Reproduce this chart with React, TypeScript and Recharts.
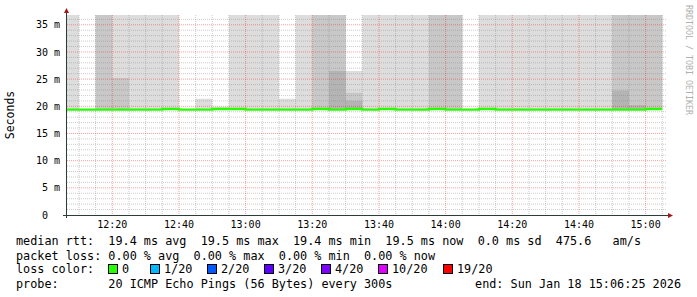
import { Area, CartesianGrid, ComposedChart, Line, XAxis, YAxis } from "recharts"

// slot start, minutes after 12:00 (last entry closes the last slot)
const slotMinutes = [
  6.4167, 10, 15, 20, 25, 30, 35, 40, 45, 50, 55, 60, 65, 70, 75, 80, 85, 90, 95,
  100, 105, 110, 115, 120, 125, 130, 135, 140, 145, 150, 155, 160, 165, 170, 175, 180, 185,
]

// median rtt per slot (ms)
const medianMs = [
  19.4, 19.4, 19.4, 19.4, 19.4, 19.4, 19.5, 19.4, 19.4, 19.5, 19.5, 19.4, 19.4, 19.4, 19.4, 19.5, 19.4, 19.5, 19.4,
  19.5, 19.4, 19.4, 19.5, 19.4, 19.4, 19.5, 19.4, 19.4, 19.4, 19.4, 19.4, 19.4, 19.4, 19.4, 19.4, 19.5, 19.5,
]

// smoke: top of each shade band (ms), 45 = above the chart, null = no band
const lightTop = [
  45, null, 45, 45, 45, 45, 45, null, 21.4, 19.9, 45, 45, 45, 21.4, 45, 45, 45, 26.5, 45,
  45, 45, 45, 45, 45, null, 45, 45, 45, 45, 45, 45, 45, 45, 45, 45, 45, null,
]
const midTop = [
  null, null, 45, 25.2, null, null, null, null, null, null, null, null, null, null, null, 45, 45, 22.5, null,
  null, null, null, 45, 45, null, null, null, null, null, null, null, null, null, 45, 45, 45, null,
]
const darkTop = [
  null, null, null, null, null, null, null, null, null, null, null, null, null, null, null, null, 26.5, 21.0, null,
  null, null, null, null, null, null, null, null, null, null, null, null, null, null, 22.9, 20.2, null, null,
]

const timeTicks = [20, 40, 60, 80, 100, 120, 140, 160, 180]
const timeLabels = ["12:20", "12:40", "13:00", "13:20", "13:40", "14:00", "14:20", "14:40", "15:00"]
const msTicks = [0, 5, 10, 15, 20, 25, 30, 35]
const msLabels = ["0", "5 m", "10 m", "15 m", "20 m", "25 m", "30 m", "35 m"]

const lossColors = ["#26ff00", "#00b8ff", "#0059ff", "#5e00ff", "#7e00ff", "#dd00ff", "#ff0000"]
const lossLabels = ["0", "1/20", "2/20", "3/20", "4/20", "10/20", "19/20"]
const lossBoxX = [108, 150, 207, 264, 321, 378, 443]

const legendLines = [
  "median rtt:  19.4 ms avg  19.5 ms max  19.4 ms min  19.5 ms now  0.0 ms sd  475.6   am/s",
  "packet loss: 0.00 % avg  0.00 % max  0.00 % min  0.00 % now",
  "loss color:",
  "probe:       20 ICMP Echo Pings (56 Bytes) every 300s",
]
const legendEnd = "end: Sun Jan 18 15:06:25 2026"

const rows = slotMinutes.map((t, i) => ({
  t,
  median: medianMs[i],
  light: lightTop[i],
  mid: midTop[i],
  dark: darkTop[i],
}))

const minorMs = Array.from({ length: 36 }, (_, i) => i + 1).filter((v) => v % 5 !== 0)
const majorMs = [5, 10, 15, 20, 25, 30, 35]
const minorMin = Array.from({ length: 36 }, (_, i) => 10 + i * 5).filter((v) => v % 20 !== 0)

const MONO = "'DejaVu Sans Mono', monospace"
const lineY = [245, 259.5, 273, 287.5]

const band = (key: "light" | "mid" | "dark") => (d: any) => [d.median, d[key] ?? d.median]

const TimeTick = (props: any) => {
  const { x, y, payload } = props
  return (
    <text x={x} y={y + 13} textAnchor="middle" fontFamily={MONO} fontSize={10} fill="#000">
      {timeLabels[timeTicks.indexOf(payload.value)]}
    </text>
  )
}

const MsTick = (props: any) => {
  const { x, y, payload } = props
  const idx = msTicks.indexOf(payload.value)
  return (
    <text x={x - (idx === 0 ? 19 : 7)} y={y + 3.6} textAnchor="end" fontFamily={MONO} fontSize={10} fill="#000">
      {msLabels[idx]}
    </text>
  )
}

const pre = { whiteSpace: "pre" as const }

export default function App() {
  return (
    <div style={{ position: "absolute", left: 0, top: 0, width: 697, height: 297, background: "#fff" }}>
      <ComposedChart width={697} height={297} data={rows} margin={{ top: 15, right: 30, bottom: 62, left: 0 }}>
        <XAxis
          dataKey="t"
          type="number"
          domain={[6.4167, 186.4167]}
          allowDataOverflow
          ticks={timeTicks}
          interval={0}
          axisLine={false}
          tickLine={false}
          tickSize={0}
          tickMargin={0}
          height={20}
          tick={TimeTick}
        />
        <YAxis
          type="number"
          domain={[0, 36.8]}
          allowDataOverflow
          ticks={msTicks}
          interval={0}
          axisLine={false}
          tickLine={false}
          tickSize={0}
          tickMargin={0}
          width={67}
          tick={MsTick}
        />
        <Area type="stepAfter" dataKey={band("light")} fill="#dddddd" fillOpacity={1} stroke="none" isAnimationActive={false} activeDot={false} />
        <Area type="stepAfter" dataKey={band("mid")} fill="#c8c8c8" fillOpacity={1} stroke="none" isAnimationActive={false} activeDot={false} />
        <Area type="stepAfter" dataKey={band("dark")} fill="#b4b4b4" fillOpacity={1} stroke="none" isAnimationActive={false} activeDot={false} />
        <CartesianGrid
          horizontalValues={minorMs}
          verticalValues={minorMin}
          stroke="rgba(128,128,128,0.4)"
          strokeDasharray="1 1"
          syncWithTicks={false}
          zIndex={150}
        />
        <CartesianGrid
          horizontalValues={majorMs}
          verticalValues={timeTicks}
          stroke="rgba(255,0,0,0.37)"
          strokeDasharray="1 1"
          syncWithTicks={false}
          zIndex={150}
        />
        <Line type="stepAfter" dataKey="median" stroke="#26ff00" strokeWidth={2.3} dot={false} activeDot={false} isAnimationActive={false} />
      </ComposedChart>

      <svg width={697} height={297} style={{ position: "absolute", left: 0, top: 0, pointerEvents: "none" }}>
        {/* axes + arrows */}
        <line x1={66.5} y1={218} x2={66.5} y2={12} stroke="#2c3c38" strokeWidth={1} />
        <line x1={63} y1={215.5} x2={669} y2={215.5} stroke="#2c3c38" strokeWidth={1} />
        <polygon points="64,13 69,13 66.5,8" fill="#a01818" />
        <polygon points="668,213 668,218 673,215.5" fill="#a01818" />

        <text transform="translate(14,115) rotate(-90)" textAnchor="middle" fontFamily={MONO} fontSize={11.5} fill="#000">
          Seconds
        </text>
        <text transform="translate(685.5,60) rotate(90)" textAnchor="middle" fontFamily={MONO} fontSize={8.3} fill="#b0b0b0">
          RRDTOOL / TOBI OETIKER
        </text>

        <g fontFamily={MONO} fontSize={11.8} fill="#000">
          {legendLines.map((s, i) => (
            <text key={i} x={16} y={lineY[i]} xmlSpace="preserve" style={pre}>
              {s}
            </text>
          ))}
          {lossLabels.map((label, i) => (
            <g key={label}>
              <rect x={lossBoxX[i] + 0.5} y={264.5} width={9} height={9} fill={lossColors[i]} stroke="#000" strokeWidth={1} />
              <text x={lossBoxX[i] + 14} y={lineY[2]}>
                {label}
              </text>
            </g>
          ))}
          <text x={681} y={lineY[3]} textAnchor="end" xmlSpace="preserve" style={pre}>
            {legendEnd}
          </text>
        </g>
      </svg>
    </div>
  )
}
